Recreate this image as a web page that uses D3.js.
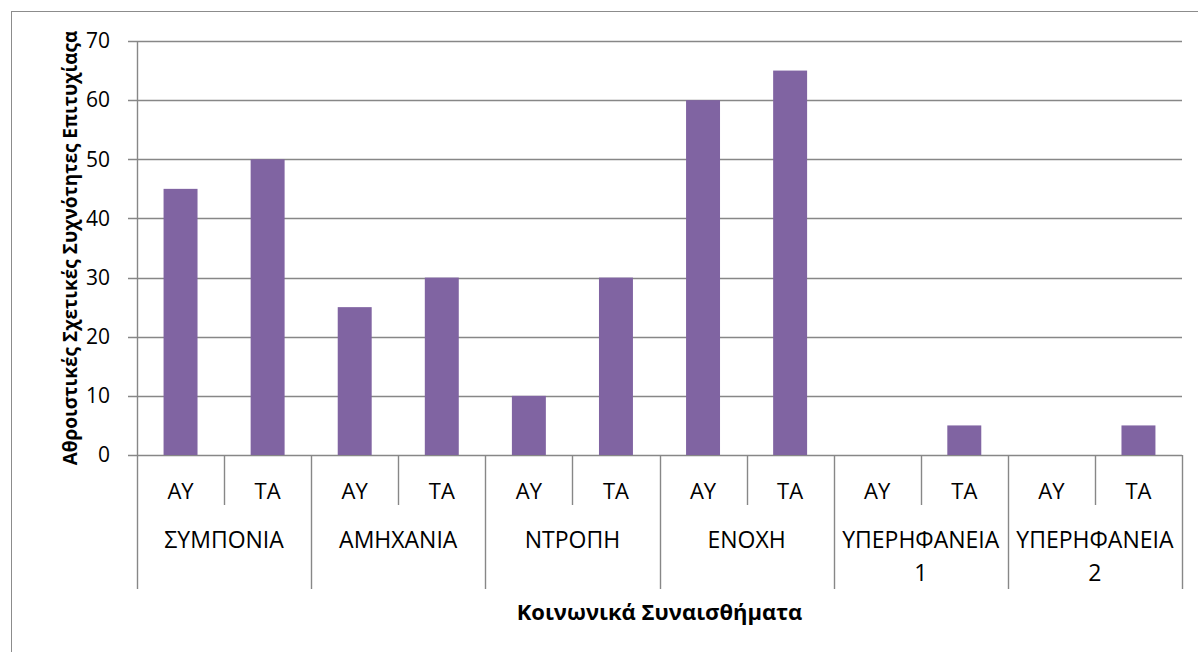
<!DOCTYPE html>
<html>
<head>
<meta charset="utf-8">
<script src="https://cdn.jsdelivr.net/npm/d3@7/dist/d3.min.js"></script>
<style>
  body { margin: 0; background: #fff; }
  text { font-family: "Open Sans", "Noto Sans", sans-serif; fill: #000; }
</style>
</head>
<body>
<div class="chart"></div>
<script>
// data
const groups = ['ΣΥΜΠΟΝΙΑ', 'ΑΜΗΧΑΝΙΑ', 'ΝΤΡΟΠΗ', 'ΕΝΟΧΗ', 'ΥΠΕΡΗΦΑΝΕΙΑ 1', 'ΥΠΕΡΗΦΑΝΕΙΑ 2'];
const subLabels = ['ΑΥ', 'ΤΑ'];
const valuesAY = [45, 25, 10, 60, 0, 0];
const valuesTA = [50, 30, 30, 65, 5, 5];
const yTicks = [0, 10, 20, 30, 40, 50, 60, 70];
const yTitle = 'Αθροιστικές Σχετικές Συχνότητες Επιτυχίαςα';
const xTitle = 'Κοινωνικά Συναισθήματα';

// flatten into one row per bar
const rows = [];
groups.forEach((g, i) => {
    rows.push({key: g + '|AY', group: g, sub: subLabels[0], value: valuesAY[i]});
    rows.push({key: g + '|TA', group: g, sub: subLabels[1], value: valuesTA[i]});
});

const W = 1198, H = 652;
const margin = ({top: 41, right: 16, bottom: 197, left: 137});
const width = W - margin.left - margin.right;
const height = H - margin.top - margin.bottom;

const root = d3.select('.chart').append('svg')
    .attr('width', W)
    .attr('height', H);

// outer chart frame
root.append('rect')
    .attr('x', 11.5).attr('y', 11.5)
    .attr('width', W + 20).attr('height', H + 20)
    .attr('fill', 'none')
    .attr('stroke', '#8c8c8c')
    .attr('stroke-width', 1);

const svg = root.append('g')
    .attr('transform', "translate(" + margin.left + "," + margin.top + ")");

// scales
const xScale = d3.scaleBand()
    .domain(rows.map(d => d.key))
    .range([0, width])
    .paddingInner(0.61)
    .paddingOuter(0.305);

const yScale = d3.scaleLinear()
    .domain([0, 70])
    .range([height, 0]);

const step = xScale.step();
const gridColor = '#878787';

// gridlines
svg.append('g')
    .selectAll('line')
    .data(yTicks)
    .enter()
    .append('line')
    .attr('x1', -9)
    .attr('x2', width)
    .attr('y1', d => Math.round(yScale(d)) + 0.5)
    .attr('y2', d => Math.round(yScale(d)) + 0.5)
    .attr('stroke', gridColor)
    .attr('stroke-width', 1.4);

// y axis line
svg.append('line')
    .attr('x1', 0.5).attr('x2', 0.5)
    .attr('y1', 0).attr('y2', height)
    .attr('stroke', gridColor)
    .attr('stroke-width', 1.4);

// y tick labels
svg.append('g')
    .selectAll('text')
    .data(yTicks)
    .enter()
    .append('text')
    .attr('x', -27)
    .attr('y', d => yScale(d))
    .attr('dy', '0.35em')
    .attr('text-anchor', 'end')
    .attr('font-size', 21)
    .text(d => d);

// bars
svg.selectAll('.bar')
    .data(rows)
    .enter()
    .append('rect')
    .attr('class', 'bar')
    .attr('x', d => xScale(d.key))
    .attr('width', xScale.bandwidth())
    .attr('y', d => yScale(d.value))
    .attr('height', d => height - yScale(d.value))
    .attr('fill', '#8064a2');

// category axis: separators
const seps = d3.range(rows.length + 1);
svg.append('g')
    .selectAll('line')
    .data(seps)
    .enter()
    .append('line')
    .attr('x1', i => Math.round(i * step) + 0.5)
    .attr('x2', i => Math.round(i * step) + 0.5)
    .attr('y1', height)
    .attr('y2', i => i % 2 === 0 ? height + 134 : height + 50)
    .attr('stroke', gridColor)
    .attr('stroke-width', 1.4);

// sub labels
svg.append('g')
    .selectAll('text')
    .data(rows)
    .enter()
    .append('text')
    .attr('x', d => xScale(d.key) + xScale.bandwidth() / 2)
    .attr('y', height + 36)
    .attr('dy', '0.35em')
    .attr('text-anchor', 'middle')
    .attr('font-size', 22)
    .text(d => d.sub);

// group labels, long ones wrap onto two lines
const groupLabels = svg.append('g')
    .selectAll('text')
    .data(groups)
    .enter()
    .append('text')
    .attr('text-anchor', 'middle')
    .attr('font-size', 23)
    .attr('y', height + 85);

groupLabels.each(function(g, i) {
    const t = d3.select(this);
    const cx = (i + 0.5) * 2 * step;
    const cut = g.lastIndexOf(' ');
    if (cut > 0) {
        const parts = [g.slice(0, cut), g.slice(cut + 1)];
        parts.forEach((p, j) => {
            t.append('tspan')
                .attr('x', cx)
                .attr('dy', j === 0 ? '0.35em' : '1.45em')
                .text(p);
        });
    } else {
        t.attr('x', cx).attr('dy', '0.35em').text(g);
    }
});

// axis titles
svg.append('text')
    .attr('x', width / 2)
    .attr('y', height + 157)
    .attr('dy', '0.35em')
    .attr('text-anchor', 'middle')
    .attr('font-size', 22)
    .attr('font-weight', 'bold')
    .text(xTitle);

svg.append('text')
    .attr('transform', "translate(" + (-67) + "," + (height / 2) + ") rotate(-90)")
    .attr('dy', '0.35em')
    .attr('text-anchor', 'middle')
    .attr('font-size', 19)
    .attr('font-weight', 'bold')
    .text(yTitle);
</script>
</body>
</html>
